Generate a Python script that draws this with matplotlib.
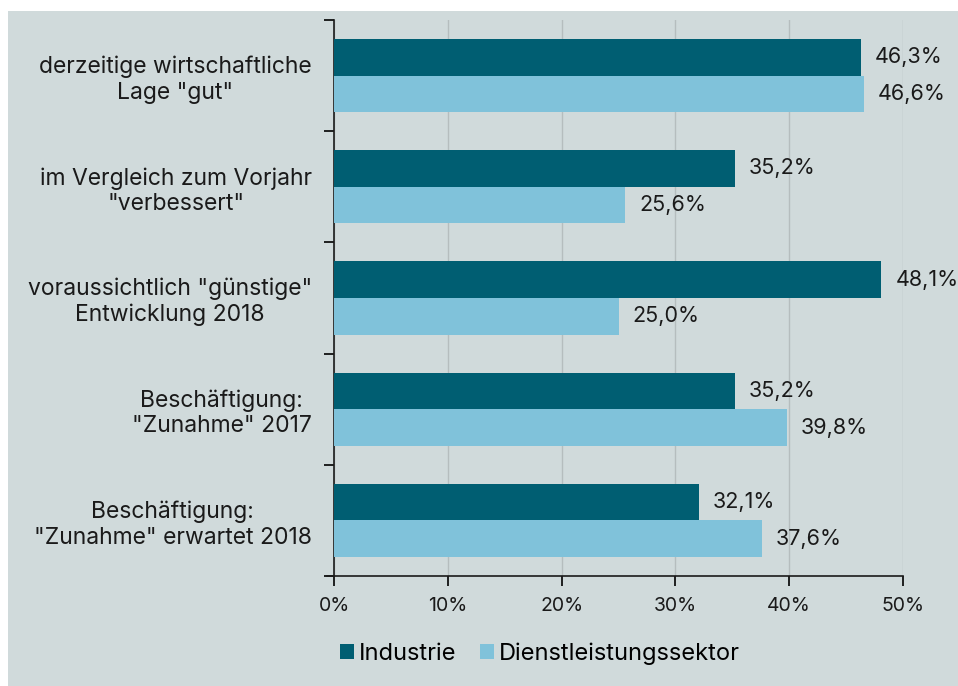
import matplotlib
matplotlib.use('Agg')
import matplotlib.pyplot as plt
from matplotlib.patches import Rectangle
import numpy as np

plt.rcParams['font.family'] = ['Inter', 'DejaVu Sans']

categories = ['derzeitige wirtschaftliche\nLage "gut"',
              'im Vergleich zum Vorjahr\n"verbessert"',
              'voraussichtlich "günstige"\nEntwicklung 2018',
              'Beschäftigung:\n"Zunahme" 2017',
              'Beschäftigung:\n"Zunahme" erwartet 2018']
industrie = [46.3, 35.2, 48.1, 35.2, 32.1]
dienst = [46.6, 25.6, 25.0, 39.8, 37.6]
series_names = ['Industrie', 'Dienstleistungssektor']
xticks = [0, 10, 20, 30, 40, 50]

c_ind = '#005e72'
c_dl = '#80c2da'
bg = '#d0dadb'
txt = '#1a1a1a'

fig = plt.figure(figsize=(9.58, 6.86), dpi=100)
fig.patch.set_facecolor('white')
fig.patches.append(Rectangle((8/958, 0), 1, 1 - 11/686, transform=fig.transFigure,
                             facecolor=bg, edgecolor='none', zorder=-10))

ax = fig.add_axes([334/958, 1 - 576/686, (903 - 334)/958, (576 - 20)/686])
ax.set_facecolor(bg)

y = np.arange(len(categories))
h = 0.33
b1 = ax.barh(y - h/2, industrie, height=h, color=c_ind, label=series_names[0], zorder=3)
b2 = ax.barh(y + h/2, dienst, height=h, color=c_dl, label=series_names[1], zorder=3)

for bars, vals in ((b1, industrie), (b2, dienst)):
    for bar, v in zip(bars, vals):
        ax.annotate(f'{v:.1f}%'.replace('.', ','),
                    (bar.get_width(), bar.get_y() + bar.get_height()/2),
                    xytext=(10, 0), textcoords='offset points',
                    va='center', ha='left', fontsize=15.5, color=txt,
                    annotation_clip=False)

ax.set_xlim(0, 50)
ax.set_ylim(len(categories) - 0.5, -0.5)
ax.set_xticks(xticks)
ax.set_xticklabels([f'{t}%' for t in xticks], fontsize=14, color=txt)
ax.xaxis.grid(True, color='#b5bdbe', linewidth=1, zorder=0)

ax.set_yticks(np.arange(len(categories) + 1) - 0.5)
ax.set_yticklabels([])
ax.set_yticks(y, minor=True)
ax.set_yticklabels(categories, minor=True, fontsize=16.5, color=txt,
                   multialignment='center', linespacing=1.2)
ax.tick_params(axis='y', which='minor', length=0, pad=16)
ax.tick_params(axis='y', which='major', length=7, width=1.2, direction='out')
ax.tick_params(axis='x', length=7, width=1.2, direction='out', pad=8)

for s in ('top', 'right'):
    ax.spines[s].set_visible(False)
for s in ('left', 'bottom'):
    ax.spines[s].set_linewidth(1.2)
    ax.spines[s].set_color(txt)
ax.spines['bottom'].set_bounds(-0.6, 50)

fig.legend(handles=[b1, b2], loc='center left', bbox_to_anchor=(340/958, 1 - 654/686),
           ncol=2, frameon=False, fontsize=17, handlelength=0.6, handleheight=0.6,
           handletextpad=0.2, columnspacing=1.0, borderaxespad=0, borderpad=0)

fig.savefig('out.png', dpi=100, facecolor=fig.get_facecolor())
